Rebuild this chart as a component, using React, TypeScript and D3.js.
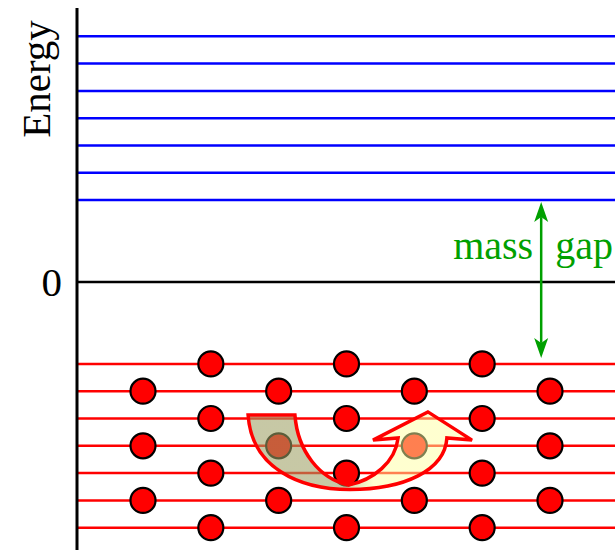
import React from "react";
import * as d3 from "d3";

// Energy levels (arbitrary units, 0 = vacuum)
const blueLevels = [3, 4, 5, 6, 7, 8, 9];
const redLevels = [-3, -4, -5, -6, -7, -8, -9];
// Particle positions: level and column indices of filled states
const particleRowLevels = [-3, -4, -5, -6, -7, -8, -9];
const oddRowCols = [1, 3, 5];
const evenRowCols = [0, 2, 4, 6];
const zeroLabel = "0";
const axisLabel = "Energy";
const gapLabelLeft = "mass";
const gapLabelRight = "gap";
// mass gap arrow: from lowest positive level to highest negative level
const gapTop = 3;
const gapBottom = -3;
const gapCol = 5.87;

const W = 615;
const H = 550;

export default function App() {
  const y = d3.scaleLinear().domain([-9, 9]).range([527.7, 36.3]);
  const x = d3.scaleLinear().domain([0, 6]).range([143, 550]);
  const axisX = 77;
  const font = "'Liberation Serif', 'Times New Roman', serif";
  const green = "#00a000";

  const particles: { c: number; l: number }[] = [];
  particleRowLevels.forEach((l) => {
    const cols = Math.abs(l) % 2 === 1 ? oddRowCols : evenRowCols;
    cols.forEach((c) => particles.push({ c, l }));
  });

  // Curved arrow (hole excitation) defined in (col, level) coordinates
  const P = (c: number, l: number) => `${x(c).toFixed(1)} ${y(l).toFixed(1)}`;
  const arrowPath = [
    `M ${P(1.55, -4.87)}`,
    `L ${P(2.24, -4.87)}`,
    `C ${P(2.28, -6.2)} ${P(2.6, -7.2)} ${P(3.03, -7.44)}`,
    `C ${P(3.4, -7.25)} ${P(3.72, -6.6)} ${P(3.76, -5.71)}`,
    `L ${P(3.39, -5.79)}`,
    `L ${P(4.2, -4.76)}`,
    `L ${P(4.85, -5.79)}`,
    `L ${P(4.48, -5.71)}`,
    `C ${P(4.45, -6.9)} ${P(3.85, -7.6)} ${P(3.05, -7.6)}`,
    `C ${P(2.3, -7.6)} ${P(1.6, -6.8)} ${P(1.55, -4.87)}`,
    "Z",
  ].join(" ");

  const gx = x(gapCol);
  const yTopTip = y(gapTop) + 2;
  const yBotTip = y(gapBottom) - 6;
  const headLen = 20;
  const headW = 7;
  const notch = 15;
  const topHead = `M ${gx} ${yTopTip} L ${gx - headW} ${yTopTip + headLen} L ${gx} ${yTopTip + notch} L ${gx + headW} ${yTopTip + headLen} Z`;
  const botHead = `M ${gx} ${yBotTip} L ${gx - headW} ${yBotTip - headLen} L ${gx} ${yBotTip - notch} L ${gx + headW} ${yBotTip - headLen} Z`;

  return (
    <svg
      width={W}
      height={H}
      style={{ position: "absolute", left: 0, top: 0, background: "#fff" }}
    >
      <defs>
        <linearGradient id="arrowGrad" gradientUnits="userSpaceOnUse" x1={x(1.55)} y1="0" x2={x(4.85)} y2="0">
          <stop offset="0" stopColor="rgb(158,160,100)" stopOpacity={0.58} />
          <stop offset="0.42" stopColor="rgb(158,160,100)" stopOpacity={0.58} />
          <stop offset="0.56" stopColor="rgb(255,255,160)" stopOpacity={0.5} />
          <stop offset="1" stopColor="rgb(255,255,160)" stopOpacity={0.5} />
        </linearGradient>
      </defs>

      {blueLevels.map((l) => (
        <line key={"b" + l} x1={axisX} x2={W} y1={y(l)} y2={y(l)} stroke="#0000ff" strokeWidth={2.5} />
      ))}
      {redLevels.map((l) => (
        <line key={"r" + l} x1={axisX} x2={W} y1={y(l)} y2={y(l)} stroke="#ff0000" strokeWidth={2.5} />
      ))}
      <line x1={axisX} x2={W} y1={y(0)} y2={y(0)} stroke="#000" strokeWidth={2.5} />

      {particles.map((p, i) => (
        <circle key={i} cx={x(p.c)} cy={y(p.l)} r={12.5} fill="#ff0000" stroke="#000" strokeWidth={2.2} />
      ))}

      <path d={arrowPath} fill="url(#arrowGrad)" stroke="#ff0000" strokeWidth={3.5} strokeLinejoin="miter" />

      <line x1={axisX} x2={axisX} y1={8} y2={H} stroke="#000" strokeWidth={3} />

      <line x1={gx} x2={gx} y1={yTopTip + notch} y2={yBotTip - notch} stroke={green} strokeWidth={2.5} />
      <path d={topHead} fill={green} />
      <path d={botHead} fill={green} />
      <text x={gx - 8} y={259} textAnchor="end" fontFamily={font} fontSize={40} fill={green}>
        {gapLabelLeft}
      </text>
      <text x={gx + 14} y={259} textAnchor="start" fontFamily={font} fontSize={40} fill={green}>
        {gapLabelRight}
      </text>

      <text x={62} y={y(0)} textAnchor="end" dominantBaseline="central" fontFamily={font} fontSize={41} fill="#000">
        {zeroLabel}
      </text>
      <text transform={`translate(50,79) rotate(-90)`} textAnchor="middle" fontFamily={font} fontSize={41} fill="#000">
        {axisLabel}
      </text>
    </svg>
  );
}
